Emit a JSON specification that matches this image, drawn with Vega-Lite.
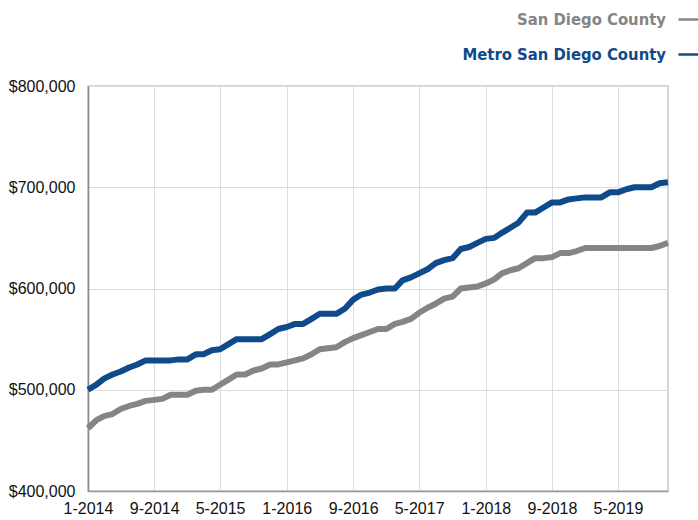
{
  "$schema": "https://vega.github.io/schema/vega-lite/v6.json",
  "autosize": {"type": "none"},
  "padding": {"left": 88, "top": 86, "right": 30, "bottom": 29},
  "width": 580,
  "height": 405,
  "background": "white",
  "config": {
    "view": {"stroke": "#c8c8c8", "strokeWidth": 1.5},
    "font": "Liberation Sans"
  },
  "datasets": {
    "prices": [
      {"date": "2014/01/01", "sd": 462, "metro": 500},
      {"date": "2014/02/01", "sd": 470, "metro": 505},
      {"date": "2014/03/01", "sd": 474, "metro": 511},
      {"date": "2014/04/01", "sd": 476, "metro": 515},
      {"date": "2014/05/01", "sd": 481, "metro": 518},
      {"date": "2014/06/01", "sd": 484, "metro": 522},
      {"date": "2014/07/01", "sd": 486, "metro": 525},
      {"date": "2014/08/01", "sd": 489, "metro": 529},
      {"date": "2014/09/01", "sd": 490, "metro": 529},
      {"date": "2014/10/01", "sd": 491, "metro": 529},
      {"date": "2014/11/01", "sd": 495, "metro": 529},
      {"date": "2014/12/01", "sd": 495, "metro": 530},
      {"date": "2015/01/01", "sd": 495, "metro": 530},
      {"date": "2015/02/01", "sd": 499, "metro": 535},
      {"date": "2015/03/01", "sd": 500, "metro": 535},
      {"date": "2015/04/01", "sd": 500, "metro": 539},
      {"date": "2015/05/01", "sd": 505, "metro": 540},
      {"date": "2015/06/01", "sd": 510, "metro": 545},
      {"date": "2015/07/01", "sd": 515, "metro": 550},
      {"date": "2015/08/01", "sd": 515, "metro": 550},
      {"date": "2015/09/01", "sd": 519, "metro": 550},
      {"date": "2015/10/01", "sd": 521, "metro": 550},
      {"date": "2015/11/01", "sd": 525, "metro": 555},
      {"date": "2015/12/01", "sd": 525, "metro": 560},
      {"date": "2016/01/01", "sd": 527, "metro": 562},
      {"date": "2016/02/01", "sd": 529, "metro": 565},
      {"date": "2016/03/01", "sd": 531, "metro": 565},
      {"date": "2016/04/01", "sd": 535, "metro": 570},
      {"date": "2016/05/01", "sd": 540, "metro": 575},
      {"date": "2016/06/01", "sd": 541, "metro": 575},
      {"date": "2016/07/01", "sd": 542, "metro": 575},
      {"date": "2016/08/01", "sd": 547, "metro": 580},
      {"date": "2016/09/01", "sd": 551, "metro": 589},
      {"date": "2016/10/01", "sd": 554, "metro": 594},
      {"date": "2016/11/01", "sd": 557, "metro": 596},
      {"date": "2016/12/01", "sd": 560, "metro": 599},
      {"date": "2017/01/01", "sd": 560, "metro": 600},
      {"date": "2017/02/01", "sd": 565, "metro": 600},
      {"date": "2017/03/01", "sd": 567, "metro": 608},
      {"date": "2017/04/01", "sd": 570, "metro": 611},
      {"date": "2017/05/01", "sd": 576, "metro": 615},
      {"date": "2017/06/01", "sd": 581, "metro": 619},
      {"date": "2017/07/01", "sd": 585, "metro": 625},
      {"date": "2017/08/01", "sd": 590, "metro": 628},
      {"date": "2017/09/01", "sd": 592, "metro": 630},
      {"date": "2017/10/01", "sd": 600, "metro": 639},
      {"date": "2017/11/01", "sd": 601, "metro": 641},
      {"date": "2017/12/01", "sd": 602, "metro": 645},
      {"date": "2018/01/01", "sd": 605, "metro": 649},
      {"date": "2018/02/01", "sd": 609, "metro": 650},
      {"date": "2018/03/01", "sd": 615, "metro": 655},
      {"date": "2018/04/01", "sd": 618, "metro": 660},
      {"date": "2018/05/01", "sd": 620, "metro": 665},
      {"date": "2018/06/01", "sd": 625, "metro": 675},
      {"date": "2018/07/01", "sd": 630, "metro": 675},
      {"date": "2018/08/01", "sd": 630, "metro": 680},
      {"date": "2018/09/01", "sd": 631, "metro": 685},
      {"date": "2018/10/01", "sd": 635, "metro": 685},
      {"date": "2018/11/01", "sd": 635, "metro": 688},
      {"date": "2018/12/01", "sd": 637, "metro": 689},
      {"date": "2019/01/01", "sd": 640, "metro": 690},
      {"date": "2019/02/01", "sd": 640, "metro": 690},
      {"date": "2019/03/01", "sd": 640, "metro": 690},
      {"date": "2019/04/01", "sd": 640, "metro": 695},
      {"date": "2019/05/01", "sd": 640, "metro": 695},
      {"date": "2019/06/01", "sd": 640, "metro": 698},
      {"date": "2019/07/01", "sd": 640, "metro": 700},
      {"date": "2019/08/01", "sd": 640, "metro": 700},
      {"date": "2019/09/01", "sd": 640, "metro": 700},
      {"date": "2019/10/01", "sd": 642, "metro": 704},
      {"date": "2019/11/01", "sd": 645, "metro": 705}
    ]
  },
  "data": {"name": "prices"},
  "transform": [
    {"fold": ["sd", "metro"], "as": ["key", "thousands"]},
    {"lookup": "key", "from": {"data": {"values": [
      {"key": "sd", "series": "San Diego County", "order": 1},
      {"key": "metro", "series": "Metro San Diego County", "order": 2}
    ]}, "key": "key", "fields": ["series", "order"]}},
    {"calculate": "datum.thousands * 1000", "as": "price"}
  ],
  "mark": {"type": "line", "strokeWidth": 6, "interpolate": "linear", "strokeJoin": "round", "strokeCap": "butt"},
  "encoding": {
    "x": {
      "field": "date",
      "type": "temporal",
      "scale": {"domain": [{"year": 2014, "month": 1, "date": 1}, {"year": 2019, "month": 11, "date": 1}]},
      "axis": {
        "title": null,
        "values": [
          {"year": 2014, "month": 1, "date": 1},
          {"year": 2014, "month": 9, "date": 1},
          {"year": 2015, "month": 5, "date": 1},
          {"year": 2016, "month": 1, "date": 1},
          {"year": 2016, "month": 9, "date": 1},
          {"year": 2017, "month": 5, "date": 1},
          {"year": 2018, "month": 1, "date": 1},
          {"year": 2018, "month": 9, "date": 1},
          {"year": 2019, "month": 5, "date": 1}
        ],
        "format": "%-m-%Y",
        "labelFont": "Liberation Sans",
        "labelFontSize": 16,
        "labelColor": "#111111",
        "labelPadding": 9,
        "labelFlush": false,
        "labelOverlap": false,
        "ticks": false,
        "domainColor": "#999999",
        "domainWidth": 1.5,
        "grid": true,
        "gridColor": "#dddddd",
        "gridWidth": 1
      }
    },
    "y": {
      "field": "price",
      "type": "quantitative",
      "scale": {"domain": [400000, 800000], "nice": false, "zero": false},
      "axis": {
        "title": null,
        "values": [400000, 500000, 600000, 700000, 800000],
        "format": "$,.0f",
        "labelFont": "Liberation Sans",
        "labelFontSize": 16,
        "labelColor": "#111111",
        "labelPadding": 13,
        "ticks": false,
        "domainColor": "#888888",
        "domainWidth": 1.5,
        "grid": true,
        "gridColor": "#dddddd",
        "gridWidth": 1
      }
    },
    "color": {
      "field": "series",
      "type": "nominal",
      "scale": {"domain": ["San Diego County", "Metro San Diego County"], "range": ["#858585", "#0f4a8a"]},
      "legend": {
        "title": null,
        "orient": "none",
        "legendX": 589,
        "legendY": -78,
        "direction": "vertical",
        "symbolType": "stroke",
        "symbolSize": 400,
        "symbolStrokeWidth": 2.5,
        "labelAlign": "right",
        "labelOffset": -34,
        "labelLimit": 400,
        "labelFont": "DejaVu Sans Condensed, sans-serif",
        "labelFontWeight": "bold",
        "labelFontSize": 16.5,
        "rowPadding": 15,
        "encode": {
          "labels": {
            "update": {
              "fill": {"signal": "datum.label === 'Metro San Diego County' ? '#0f4a8a' : '#858585'"}
            }
          }
        }
      }
    },
    "order": {"field": "order", "type": "quantitative"}
  }
}
